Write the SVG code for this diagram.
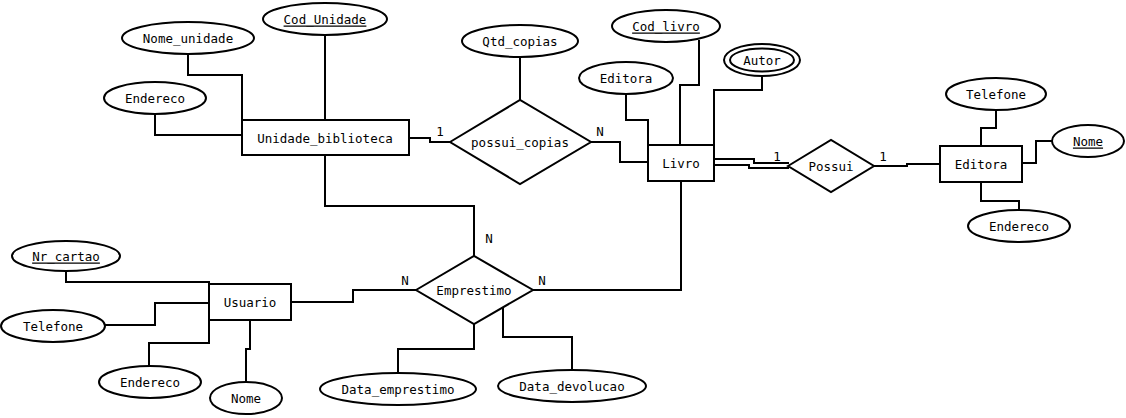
<svg xmlns="http://www.w3.org/2000/svg" width="1126" height="418" viewBox="0 0 1126 418">
<style>
.s{fill:#fff;stroke:#000;stroke-width:2}
.c{fill:none;stroke:#000;stroke-width:2}
text{font-family:"DejaVu Sans Mono",monospace;font-size:12.5px;fill:#000;text-anchor:middle;dominant-baseline:central}
.u{text-decoration:underline}
.l{text-anchor:start}
</style>
<rect width="1126" height="418" fill="#fff"/>
<g id="connectors">
<polyline class="c" points="325,35 325,120"/>
<polyline class="c" points="188,55 188,75 242,75 242,120"/>
<polyline class="c" points="155,115 155,135 242,135"/>
<polyline class="c" points="325,155 325,206 474,206 474,256"/>
<polyline class="c" points="409,138 430,138 430,142 450,142"/>
<polyline class="c" points="520,57 520,100"/>
<polyline class="c" points="591,142 620,142 620,162 648,162"/>
<polyline class="c" points="626,95 626,120 648,120 648,145"/>
<polyline class="c" points="699,40 699,85 680,85 680,145"/>
<polyline class="c" points="762,76 762,90 714,90 714,145"/>
<polyline class="c" points="681,181 681,290 533,290"/>
<polyline class="c" points="714,159 754,159 754,163 789,163"/>
<polyline class="c" points="714,165 749,165 749,168 789,168"/>
<polyline class="c" points="874,166 907,166 907,164 940,164"/>
<polyline class="c" points="996,110 996,128 981,128 981,146"/>
<polyline class="c" points="1022,163 1036,163 1036,141 1052,141"/>
<polyline class="c" points="981,182 981,201 1019,201 1019,210"/>
<polyline class="c" points="66,271 66,282 209,282 209,284"/>
<polyline class="c" points="105,325 155,325 155,303 209,303"/>
<polyline class="c" points="149,367 149,343 209,343 209,320"/>
<polyline class="c" points="250,320 250,349 246,349 246,382"/>
<polyline class="c" points="291,302 353,302 353,290 416,290"/>
<polyline class="c" points="474,324 474,349 398,349 398,373"/>
<polyline class="c" points="503,308 503,337 572,337 572,370"/>
<text x="440" y="131">1</text>
<text x="600" y="131">N</text>
<text x="777" y="156">1</text>
<text x="883" y="156">1</text>
<text x="489" y="238">N</text>
<text x="405" y="280">N</text>
<text x="542" y="280">N</text>
</g>
<g id="Unidade_biblioteca"><rect class="s" x="242" y="120" width="167" height="35"/><text x="325" y="138">Unidade_biblioteca</text></g>
<g id="Cod_Unidade"><ellipse class="s" cx="325" cy="19" rx="62" ry="16"/><text class="u" x="325" y="19">Cod_Unidade</text></g>
<g id="Nome_unidade"><ellipse class="s" cx="188" cy="38" rx="66" ry="16"/><text x="188" y="38">Nome_unidade</text></g>
<g id="Endereco_unidade"><ellipse class="s" cx="155" cy="98" rx="51" ry="16"/><text x="155" y="98">Endereco</text></g>
<g id="possui_copias"><polygon class="s" points="450,142 520,100 591,142 520,184"/><text x="520" y="142">possui_copias</text></g>
<g id="Qtd_copias"><ellipse class="s" cx="520" cy="41" rx="58" ry="16"/><text x="520" y="41">Qtd_copias</text></g>
<g id="Livro"><rect class="s" x="648" y="145" width="66" height="36"/><text x="681" y="163">Livro</text></g>
<g id="Editora_attr"><ellipse class="s" cx="626" cy="78" rx="47" ry="16"/><text x="626" y="78">Editora</text></g>
<g id="Cod_livro"><ellipse class="s" cx="666" cy="26" rx="54" ry="16"/><text class="u" x="666" y="26">Cod_livro</text></g>
<g id="Autor"><ellipse class="s" cx="762" cy="60" rx="38" ry="16"/><ellipse class="s" cx="762" cy="60" rx="32" ry="11.5"/><text x="762" y="60">Autor</text></g>
<g id="Possui"><polygon class="s" points="788,166 831,140 874,166 831,192"/><text x="831" y="166">Possui</text></g>
<g id="Editora"><rect class="s" x="940" y="146" width="82" height="36"/><text x="981" y="164">Editora</text></g>
<g id="Telefone_editora"><ellipse class="s" cx="996" cy="94" rx="50" ry="16"/><text x="996" y="94">Telefone</text></g>
<g id="Nome_editora"><ellipse class="s" cx="1088" cy="141" rx="36" ry="16"/><text class="u" x="1088" y="141">Nome</text></g>
<g id="Endereco_editora"><ellipse class="s" cx="1019" cy="226" rx="51" ry="16"/><text x="1019" y="226">Endereco</text></g>
<g id="Usuario"><rect class="s" x="209" y="284" width="82" height="36"/><text x="250" y="302">Usuario</text></g>
<g id="Nr_cartao"><ellipse class="s" cx="66" cy="256" rx="54" ry="15"/><text class="u" x="66" y="256">Nr_cartao</text></g>
<g id="Telefone_usuario"><ellipse class="s" cx="53" cy="326" rx="52" ry="16"/><text x="53" y="326">Telefone</text></g>
<g id="Endereco_usuario"><ellipse class="s" cx="150" cy="382" rx="51" ry="16"/><text x="150" y="382">Endereco</text></g>
<g id="Nome_usuario"><ellipse class="s" cx="246" cy="398" rx="36" ry="16"/><text x="246" y="398">Nome</text></g>
<g id="Emprestimo"><polygon class="s" points="416,290 474,256 533,290 474,324"/><text x="474" y="290">Emprestimo</text></g>
<g id="Data_emprestimo"><ellipse class="s" cx="398" cy="389" rx="78" ry="16"/><text x="398" y="389">Data_emprestimo</text></g>
<g id="Data_devolucao"><ellipse class="s" cx="572" cy="386" rx="74" ry="16"/><text x="572" y="386">Data_devolucao</text></g>
</svg>
